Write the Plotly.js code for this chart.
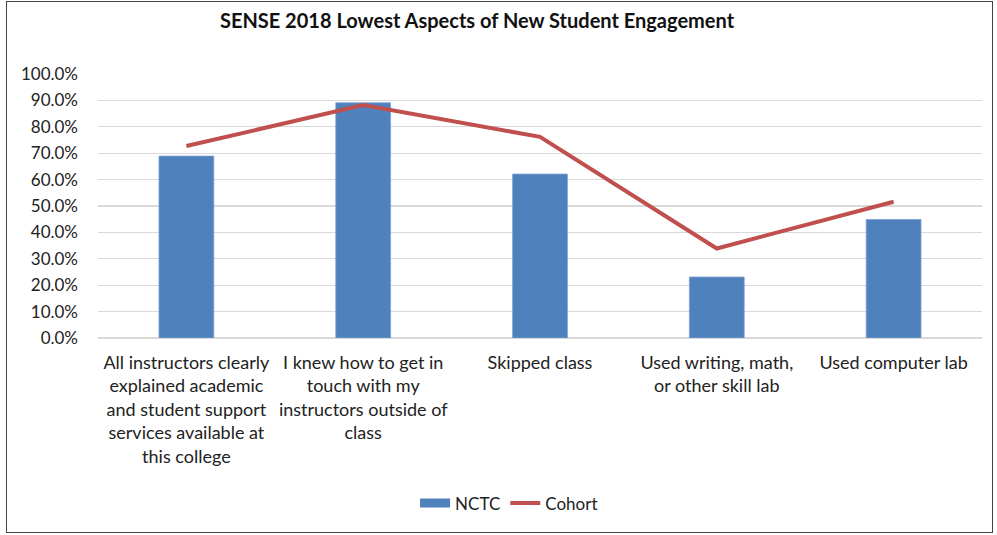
<!DOCTYPE html>
<html>
<head>
<meta charset="utf-8">
<script src="https://cdn.plot.ly/plotly-3.0.1.min.js"></script>
<style>
  html, body { margin: 0; padding: 0; background: #ffffff; }
  #wrap { position: relative; width: 997px; height: 535px; }
  #chart { position: absolute; left: 0; top: 0; width: 997px; height: 535px; }
  #frame { position: absolute; left: 6px; top: 1px; width: 985px; height: 530px;
           border: 1.5px solid #444; pointer-events: none; }
  #chart .legend .traces { opacity: 1 !important; }
</style>
</head>
<body>
<div id="wrap">
  <div id="chart"></div>
  <div id="frame"></div>
</div>
<script>
// Data
const categories = [
  "All instructors clearly explained academic and student support services available at this college",
  "I knew how to get in touch with my instructors outside of class",
  "Skipped class",
  "Used writing, math, or other skill lab",
  "Used computer lab"
];
const tickLabels = [
  "All instructors clearly<br>explained academic<br>and student support<br>services available at<br>this college",
  "I knew how to get in<br>touch with my<br>instructors outside of<br>class",
  "Skipped class",
  "Used writing, math,<br>or other skill lab",
  "Used computer lab"
];
const nctc = [0.689, 0.891, 0.621, 0.231, 0.449];
const cohort = [0.727, 0.882, 0.762, 0.339, 0.516];
const yTicks = [0, 0.1, 0.2, 0.3, 0.4, 0.5, 0.6, 0.7, 0.8, 0.9, 1.0];

const font = "Lato, 'Open Sans', 'Liberation Sans', sans-serif";
const barColor = "#4f81bd";
const lineColor = "#c0504d";

const traces = [
  {
    type: "bar",
    name: "NCTC",
    x: categories,
    y: nctc,
    marker: { color: barColor, line: { color: "#7aa0d0", width: 0.8 } },
    showlegend: false,
    hoverinfo: "skip"
  },
  {
    type: "scatter",
    mode: "lines",
    name: "NCTC",
    x: categories,
    y: nctc,
    visible: "legendonly",
    line: { color: barColor, width: 9 },
    hoverinfo: "skip"
  },
  {
    type: "scatter",
    mode: "lines",
    name: "Cohort",
    x: categories,
    y: cohort,
    line: { color: lineColor, width: 4 },
    hoverinfo: "skip"
  }
];

const layout = {
  width: 997,
  height: 535,
  margin: { l: 98, r: 15, t: 74, b: 197 },
  paper_bgcolor: "#ffffff",
  plot_bgcolor: "#ffffff",
  font: { family: font, color: "#222222", size: 16 },
  title: {
    text: "<b>SENSE 2018 Lowest Aspects of New Student Engagement</b>",
    font: { family: font, size: 20, color: "#111111" },
    x: 477 / 997, xref: "container", xanchor: "center",
    y: 1 - 21 / 535, yref: "container", yanchor: "middle"
  },
  bargap: 0.69,
  showlegend: true,
  legend: {
    orientation: "h",
    x: 0.465, xanchor: "center",
    y: -0.627, yanchor: "middle",
    font: { family: font, size: 17, color: "#222222" },
    traceorder: "normal",
    itemclick: false,
    itemdoubleclick: false
  },
  xaxis: {
    type: "category",
    tickvals: categories,
    ticktext: tickLabels,
    tickangle: 0,
    tickfont: { family: font, size: 18, color: "#222222" },
    showgrid: false,
    showline: false,
    ticks: "",
    zeroline: false,
    ticklabelstandoff: 12,
    fixedrange: true
  },
  yaxis: {
    range: [0, 1],
    tickvals: yTicks,
    tickformat: ".1%",
    tickfont: { family: font, size: 17, color: "#222222" },
    showgrid: true,
    gridcolor: "#d9d9d9",
    gridwidth: 1.2,
    zeroline: true,
    zerolinecolor: "#d9d9d9",
    zerolinewidth: 1.2,
    showline: false,
    ticks: "",
    ticklabelstandoff: 19,
    fixedrange: true
  }
};

Plotly.newPlot("chart", traces, layout, { staticPlot: true, displayModeBar: false });
</script>
</body>
</html>
